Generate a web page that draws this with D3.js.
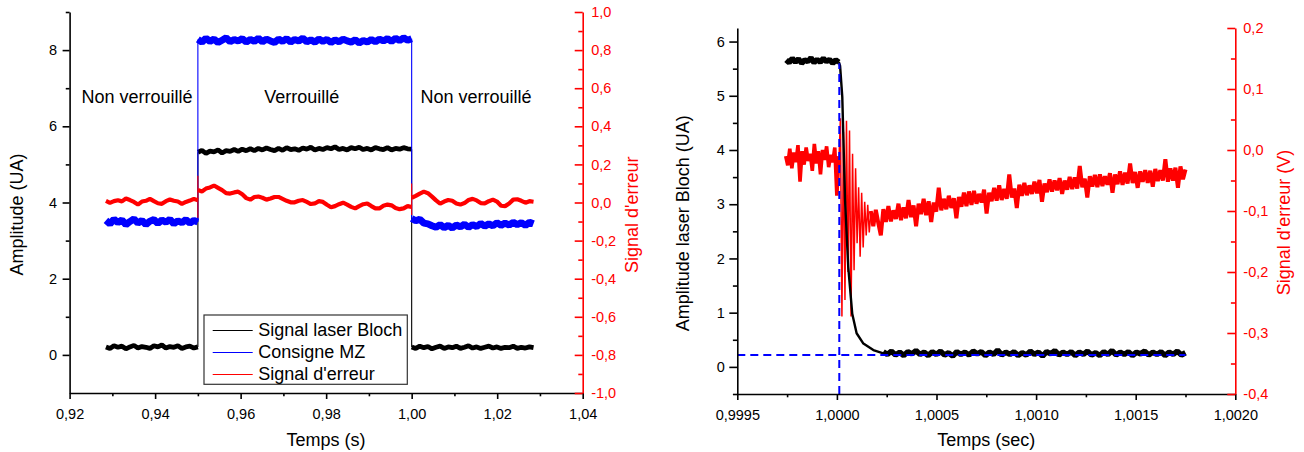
<!DOCTYPE html>
<html><head><meta charset="utf-8">
<script src="https://cdn.jsdelivr.net/npm/d3@7"></script>
<style>
body{margin:0;background:#fff;}
svg{display:block;font-family:"Liberation Sans",Arial,sans-serif;}
</style></head><body>
<svg id="c" width="1304" height="452"></svg>
<script>
// ================= DATA =================
// ---- Left chart: Temps (s) ----
const leftBounds = [0.9285, 0.95, 1.00, 1.0285]; // pre / locked / post segment limits
const leftXTicks = [0.92, 0.94, 0.96, 0.98, 1.00, 1.02, 1.04];
const leftXMinor = [0.93, 0.95, 0.97, 0.99, 1.01, 1.03];
const leftYTicks = [0, 2, 4, 6, 8];
const leftYMinor = [1, 3, 5, 7, 9];
const leftRTicks = [-1.0, -0.8, -0.6, -0.4, -0.2, 0.0, 0.2, 0.4, 0.6, 0.8, 1.0];
const leftRMinor = [-0.9, -0.7, -0.5, -0.3, -0.1, 0.1, 0.3, 0.5, 0.7, 0.9];
const seriesNames = ["Signal laser Bloch", "Consigne MZ", "Signal d'erreur"];
const stateLabels = ["Non verrouillé", "Verrouillé", "Non verrouillé"];

// Signal laser Bloch (UA)
const blochPre = [0.21,0.17,0.24,0.20,0.23,0.16,0.21,0.25,0.18,0.22,0.20,0.17,0.24,0.21,0.26,0.18,0.22,0.20,0.24,0.17,0.21,0.23,0.18,0.21];
const blochLock = [5.32,5.37,5.29,5.35,5.33,5.38,5.30,5.36,5.34,5.39,5.34,5.40,5.36,5.41,5.36,5.42,5.38,5.43,5.39,5.36,5.42,5.37,5.44,5.39,5.41,5.37,5.43,5.40,5.45,5.38,5.42,5.39,5.44,5.41,5.46,5.39,5.42,5.38,5.44,5.41,5.45,5.39,5.42,5.38,5.44,5.41,5.39,5.44,5.38,5.42,5.40,5.44,5.41,5.40];
const blochPost = [0.21,0.17,0.23,0.19,0.22,0.16,0.20,0.23,0.17,0.21,0.19,0.23,0.17,0.20,0.24,0.18,0.21,0.17,0.20,0.23,0.18,0.21,0.17,0.20,0.19,0.23,0.17,0.20,0.18,0.21,0.19];
// Consigne MZ (UA)
const mzPre = [3.53,3.44,3.56,3.47,3.54,3.42,3.50,3.57,3.46,3.53,3.42,3.51,3.55,3.45,3.54,3.48,3.56,3.44,3.52,3.47,3.55,3.46,3.53,3.49];
const mzLock = [8.28,8.21,8.31,8.23,8.29,8.20,8.26,8.32,8.22,8.28,8.24,8.30,8.21,8.28,8.23,8.31,8.22,8.29,8.24,8.20,8.29,8.23,8.30,8.21,8.28,8.24,8.31,8.22,8.27,8.21,8.29,8.23,8.28,8.20,8.27,8.22,8.29,8.24,8.21,8.27,8.19,8.25,8.21,8.28,8.22,8.29,8.24,8.30,8.23,8.31,8.25,8.32,8.26,8.30];
const mzPost = [3.58,3.52,3.56,3.46,3.44,3.39,3.35,3.42,3.34,3.40,3.33,3.41,3.36,3.43,3.35,3.42,3.37,3.45,3.38,3.44,3.39,3.47,3.40,3.46,3.41,3.48,3.42,3.47,3.40,3.48,3.44];
// Signal d'erreur (V, right axis)
const errPre = [0.008,-0.002,0.007,0.012,0.006,0.021,0.013,0.003,-0.011,0.005,0.009,0.019,0.007,-0.004,-0.007,0.007,0.016,0.009,0.005,-0.007,0.003,0.010,0.019,0.012];
const errLock = [0.065,0.058,0.073,0.079,0.089,0.077,0.065,0.049,0.047,0.053,0.057,0.043,0.023,0.015,0.029,0.031,0.025,0.015,0.021,0.029,0.029,0.019,0.009,0.001,0.001,0.009,0.013,0.003,-0.008,-0.005,0.007,0.003,-0.012,-0.025,-0.019,-0.009,-0.001,-0.011,-0.023,-0.031,-0.019,-0.009,-0.005,-0.019,-0.031,-0.031,-0.017,-0.011,-0.015,-0.029,-0.035,-0.031,-0.019,-0.024];
const errPost = [0.025,0.035,0.047,0.057,0.049,0.031,0.011,-0.006,0.005,0.013,0.009,-0.005,-0.011,-0.003,0.013,0.019,0.011,-0.003,-0.005,0.007,0.015,0.005,-0.017,-0.019,-0.005,0.015,0.017,0.009,-0.001,0.007,0.004];
const errJumpLock = [-0.080, 0.140];   // spike at 0,95 s
const errJumpUnlock = [-0.065, 0.100]; // spike at 1,00 s

// ---- Right chart: Temps (sec) ----
const rightXTicks = [0.9995, 1.0000, 1.0005, 1.0010, 1.0015, 1.0020];
const rightXMinor = [0.99975, 1.00025, 1.00075, 1.00125, 1.00175];
const rightYTicks = [0, 1, 2, 3, 4, 5, 6];
const rightYMinor = [-0.5, 0.5, 1.5, 2.5, 3.5, 4.5, 5.5];
const rightRTicks = [-0.4, -0.3, -0.2, -0.1, 0.0, 0.1, 0.2];
const rightRMinor = [-0.35, -0.25, -0.15, -0.05, 0.05, 0.15];

const rBlochPreT = [0.999745, 1.000010];
const rBlochPre = [5.66,5.61,5.69,5.62,5.68,5.60,5.66,5.63,5.70,5.61,5.67,5.62,5.69,5.63,5.67,5.60,5.66,5.62];
const rBlochFallT = [1.000010,1.000016,1.000027,1.000041,1.000057,1.000077,1.000099,1.000133,1.000183,1.000233];
const rBlochFall = [5.62,5.55,4.98,3.07,1.84,0.98,0.62,0.43,0.31,0.25];
const rBlochPostT = [1.000233, 1.001750];
const rBlochPost = [0.28,0.23,0.29,0.22,0.27,0.21,0.28,0.24,0.30,0.23,0.27,0.21,0.28,0.23,0.29,0.22,0.26,0.20,0.28,0.23,
0.27,0.22,0.29,0.24,0.28,0.21,0.27,0.23,0.31,0.22,0.27,0.23,0.28,0.21,0.26,0.22,0.29,0.23,0.27,0.20,
0.28,0.24,0.30,0.22,0.27,0.23,0.28,0.21,0.27,0.23,0.29,0.22,0.26,0.21,0.28,0.23,0.30,0.22,0.27,0.23,
0.28,0.21,0.27,0.24,0.29,0.22,0.27,0.23,0.28,0.21,0.27,0.23,0.29,0.22,0.26];

const rErrPreT = [0.999743, 1.000010];
const rErrPre = [-0.010,-0.025,0.002,-0.030,-0.004,-0.020,0.008,-0.052,-0.002,-0.024,0.004,-0.018,-0.006,-0.034,0.010,-0.022,-0.002,-0.040,0.000,-0.016,0.006,-0.028,-0.008,-0.020,0.004,-0.075,-0.010];
const rErrTransT = [1.000010, 1.000170];
const rErrTrans = [-0.020,0.052,-0.273,0.030,-0.246,0.048,-0.200,0.032,-0.273,-0.006,-0.197,-0.030,-0.153,-0.061,-0.175,-0.070,-0.160,-0.085,-0.140,-0.090,-0.135,-0.105];
const rErrMainT = [1.000170, 1.001750];
const rErrMain = [
-0.100,-0.125,-0.098,-0.120,-0.140,-0.097,-0.118,-0.092,-0.117,-0.099,
-0.113,-0.088,-0.115,-0.094,-0.112,-0.082,-0.110,-0.091,-0.125,-0.088,
-0.105,-0.080,-0.107,-0.084,-0.118,-0.086,-0.101,-0.062,-0.099,-0.080,
-0.097,-0.075,-0.095,-0.079,-0.112,-0.077,-0.093,-0.070,-0.092,-0.068,
-0.090,-0.067,-0.088,-0.072,-0.086,-0.065,-0.104,-0.070,-0.084,-0.062,
-0.083,-0.058,-0.082,-0.064,-0.080,-0.040,-0.078,-0.063,-0.095,-0.057,
-0.075,-0.054,-0.074,-0.058,-0.072,-0.052,-0.071,-0.049,-0.085,-0.055,
-0.069,-0.048,-0.068,-0.050,-0.066,-0.046,-0.072,-0.050,-0.065,-0.044,
-0.064,-0.045,-0.063,-0.026,-0.061,-0.047,-0.078,-0.043,-0.060,-0.041,
-0.061,-0.040,-0.059,-0.043,-0.057,-0.038,-0.070,-0.040,-0.056,-0.035,
-0.057,-0.037,-0.055,-0.022,-0.054,-0.036,-0.062,-0.035,-0.052,-0.033,
-0.054,-0.034,-0.060,-0.031,-0.051,-0.033,-0.050,-0.015,-0.052,-0.030,
-0.050,-0.029,-0.062,-0.027,-0.048,-0.032];
const guideTime = 1.000012;   // blue dashed vertical
const guideLevel = 0.22;      // blue dashed horizontal
const guideTop = 5.6;

// ================= DRAWING =================
const FONT = "'Liberation Sans', Arial, sans-serif";
const svg = d3.select("#c");
const loc = d3.formatLocale({decimal: ",", thousands: " ", grouping: [3], currency: ["", ""], minus: "-"});
const BLACK = "#000", BLUE = "#0000ff", RED = "#ff0000";

function seg(t0, t1, vals) {
  const s = d3.scaleLinear().domain([0, vals.length - 1]).range([t0, t1]);
  return vals.map((v, i) => [s(i), v]);
}
function drawAxis(transform, axisFn, scale, majors, minors, inner, fmt, color, pad) {
  const g = svg.append("g").attr("transform", transform);
  g.call(axisFn(scale).tickValues(majors).tickSizeInner(inner).tickSizeOuter(0).tickPadding(pad).tickFormat(fmt));
  g.attr("font-size", 14.5).attr("font-family", FONT);
  const gm = svg.append("g").attr("transform", transform);
  gm.call(axisFn(scale).tickValues(minors).tickSizeInner(inner * 0.55).tickSizeOuter(0).tickFormat(""));
  gm.select(".domain").remove();
  [g, gm].forEach(s => {
    s.selectAll("line,path").attr("stroke", color).attr("stroke-width", 1.6);
    s.selectAll("text").attr("fill", color);
  });
  return g;
}
function title(x, y, text, color, rot) {
  svg.append("text").attr("x", 0).attr("y", 0)
    .attr("transform", `translate(${x},${y})` + (rot ? " rotate(-90)" : ""))
    .attr("text-anchor", "middle").attr("font-size", 18).attr("font-family", FONT)
    .attr("fill", color).text(text);
}

// ---------- Left chart ----------
const xL = d3.scaleLinear().domain([0.92, 1.04]).range([69.6, 582.7]);
const yL = d3.scaleLinear().domain([-1, 9]).range([393, 12]);
const yLR = d3.scaleLinear().domain([-1, 1]).range([393, 12]);
const lineL = d3.line().x(d => xL(d[0])).y(d => yL(d[1]));
const lineLR = d3.line().x(d => xL(d[0])).y(d => yLR(d[1]));
const gL = svg.append("g").attr("fill", "none").attr("stroke-linejoin", "bevel");

function drawLeftSeries(pre, lock, post, line, color, width, jumps) {
  const segs = [seg(leftBounds[0], leftBounds[1], pre), seg(leftBounds[1], leftBounds[2], lock), seg(leftBounds[2], leftBounds[3], post)];
  const j1 = [pre[pre.length - 1], ...(jumps ? jumps[0] : []), lock[0]].map(v => [leftBounds[1], v]);
  const j2 = [lock[lock.length - 1], ...(jumps ? jumps[1] : []), post[0]].map(v => [leftBounds[2], v]);
  [j1, j2].forEach(j => gL.append("path").attr("d", line(j)).attr("stroke", color).attr("stroke-width", 1.1));
  segs.forEach(s => gL.append("path").attr("d", line(s)).attr("stroke", color).attr("stroke-width", width));
}
drawLeftSeries(blochPre, blochLock, blochPost, lineL, BLACK, 4.8, null);
drawLeftSeries(mzPre, mzLock, mzPost, lineL, BLUE, 7, null);
drawLeftSeries(errPre, errLock, errPost, lineLR, RED, 4.2, [errJumpLock.slice(), errJumpUnlock.slice().reverse()]);

drawAxis("translate(0,393)", d3.axisBottom, xL, leftXTicks, leftXMinor, 6, d => loc.format(".2f")(d), BLACK, 10);
drawAxis("translate(69.6,0)", d3.axisLeft, yL, leftYTicks, leftYMinor, 7, d => loc.format("d")(d), BLACK, 5.5);
drawAxis("translate(582.7,0)", d3.axisRight, yLR, leftRTicks, leftRMinor, -8, d => loc.format(".1f")(d), RED, 8.5);

title(326, 446, "Temps (s)", BLACK, false);
title(22.5, 214.5, "Amplitude (UA)", BLACK, true);
title(638, 214.7, "Signal d'erreur", RED, true);

const stateX = [137, 301.7, 476];
stateLabels.forEach((s, i) => svg.append("text").attr("x", stateX[i]).attr("y", 103)
  .attr("text-anchor", "middle").attr("font-size", 18).attr("font-family", FONT).text(s));

// legend
const leg = svg.append("g").attr("transform", "translate(204,315)");
leg.append("rect").attr("width", 203.3).attr("height", 69.3).attr("fill", "#fff").attr("stroke", "#333").attr("stroke-width", 1.2);
const legColors = [BLACK, BLUE, RED];
seriesNames.forEach((n, i) => {
  const yb = 21 + i * 22;
  leg.append("line").attr("x1", 8.7).attr("x2", 48.7).attr("y1", yb - 5.5).attr("y2", yb - 5.5)
    .attr("stroke", legColors[i]).attr("stroke-width", 1.1);
  leg.append("text").attr("x", 54.3).attr("y", yb).attr("font-size", 18).attr("font-family", FONT).text(n);
});

// ---------- Right chart ----------
const xR = d3.scaleLinear().domain([0.9995, 1.0020]).range([737.3, 1235.3]);
const yR = d3.scaleLinear().domain([-0.5, 6.25]).range([394, 28]);
const yRR = d3.scaleLinear().domain([-0.4, 0.2]).range([394, 28]);
const lineR = d3.line().x(d => xR(d[0])).y(d => yR(d[1]));
const lineRR = d3.line().x(d => xR(d[0])).y(d => yRR(d[1]));
const gR = svg.append("g").attr("fill", "none").attr("stroke-linejoin", "bevel");

// error signal (red dense noisy trace)
gR.append("path").attr("d", lineRR(seg(rErrPreT[0], rErrPreT[1], rErrPre))).attr("stroke", RED).attr("stroke-width", 3.6);
gR.append("path").attr("d", lineRR(seg(rErrTransT[0], rErrTransT[1], rErrTrans))).attr("stroke", RED).attr("stroke-width", 1.5);
gR.append("path").attr("d", lineRR(seg(rErrMainT[0], rErrMainT[1], rErrMain))).attr("stroke", RED).attr("stroke-width", 4);

// Bloch laser amplitude (black)
gR.append("path").attr("d", lineR(seg(rBlochPreT[0], rBlochPreT[1], rBlochPre))).attr("stroke", BLACK).attr("stroke-width", 5.5);
gR.append("path").attr("d", lineR(rBlochFallT.map((t, i) => [t, rBlochFall[i]]))).attr("stroke", BLACK).attr("stroke-width", 2.4).attr("stroke-linejoin", "round");
gR.append("path").attr("d", lineR(seg(rBlochPostT[0], rBlochPostT[1], rBlochPost))).attr("stroke", BLACK).attr("stroke-width", 5.5);

// blue dashed guides
gR.append("path").attr("d", lineR([[guideTime, -0.5], [guideTime, guideTop]]))
  .attr("stroke", BLUE).attr("stroke-width", 2).attr("stroke-dasharray", "8,5");
gR.append("path").attr("d", lineR([[0.9995, guideLevel], [rBlochPostT[1], guideLevel]]))
  .attr("stroke", BLUE).attr("stroke-width", 2).attr("stroke-dasharray", "8,5");

drawAxis("translate(0,394)", d3.axisBottom, xR, rightXTicks, rightXMinor, 6, d => loc.format(".4f")(d), BLACK, 10);
drawAxis("translate(737.3,0)", d3.axisLeft, yR, rightYTicks, rightYMinor, 8, d => loc.format("d")(d), BLACK, 4.5);
drawAxis("translate(1235.3,0)", d3.axisRight, yRR, rightRTicks, rightRMinor, -8, d => loc.format(".1f")(d), RED, 8);

title(986.3, 446, "Temps (sec)", BLACK, false);
title(689, 223.3, "Amplitude laser Bloch (UA)", BLACK, true);
title(1290, 222.5, "Signal d'erreur (V)", RED, true);
</script>
</body></html>
